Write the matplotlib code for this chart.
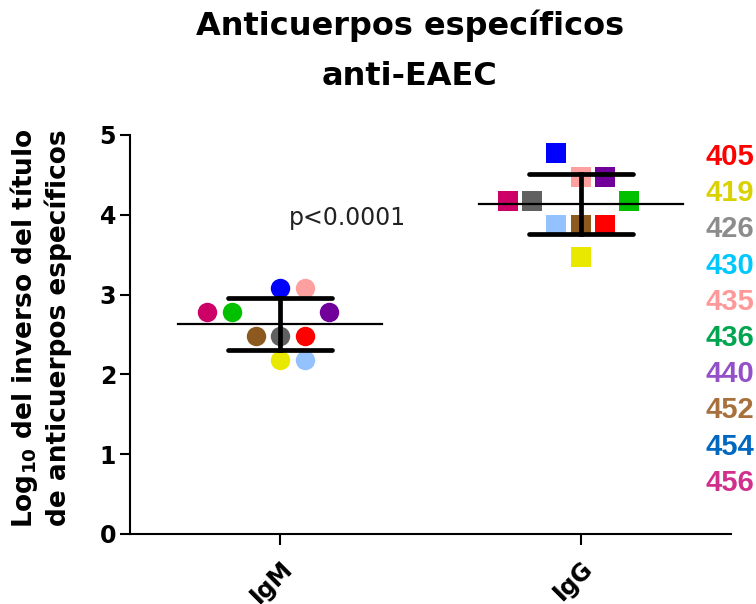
import numpy as np
import matplotlib
matplotlib.use("Agg")
import matplotlib.pyplot as plt
from matplotlib.transforms import ScaledTranslation

# data ─────────────────────────────────────────────
strains = ['405', '419', '426', '430', '435', '436', '440', '452', '454', '456']
igm = [2.477, 2.176, 2.477, 2.176, 3.079, 2.778, 2.778, 2.477, 3.079, 2.778]
igg = [3.875, 3.477, 4.176, 3.875, 4.477, 4.176, 4.477, 3.875, 4.778, 4.176]
# column slot of each point inside its group
igm_slot = [1, 0, 0, 1, 1, -2, 2, -1, 0, -3]
igg_slot = [1, 0, -2, -1, 0, 2, 1, 0, -1, -3]

groups = ['IgM', 'IgG']
p_text = 'p<0.0001'

marker_colors = ['#FF0000', '#E8E800', '#606060', '#93C2FF', '#FFA0A0',
                 '#00C000', '#700099', '#8C5A1E', '#0000FF', '#CC0066']
label_colors = ['#FF0000', '#D9D200', '#8C8C8C', '#00C8FF', '#FF9999',
                '#00A550', '#9350C8', '#A8703C', '#0068C0', '#D0308C']

# layout ─────────────────────────────────────────────
SLOT_W = 0.081
MEAN_HW = 0.34
CAP_HW = 0.173

fig = plt.figure(figsize=(7.56, 6.04), dpi=100)
ax = fig.add_axes([0.172, 0.1159, 0.967 - 0.172, 0.7765 - 0.1159])

for gi, (vals, slots, mk) in enumerate([(igm, igm_slot, 'o'), (igg, igg_slot, 's')]):
    for v, s, c in zip(vals, slots, marker_colors):
        ax.plot(gi + s * SLOT_W, v, marker=mk, ms=14, color=c, mew=0,
                ls='none', zorder=2)
    m = np.mean(vals)
    sd = np.std(vals, ddof=1)
    ax.plot([gi - MEAN_HW, gi + MEAN_HW], [m, m], color='black', lw=1.6, zorder=3)
    for y in (m - sd, m + sd):
        ax.plot([gi - CAP_HW, gi + CAP_HW], [y, y], color='black', lw=3.4,
                solid_capstyle='round', zorder=3)
    ax.plot([gi, gi], [m - sd, m + sd], color='black', lw=3.4, zorder=3)

ax.text(0.223, 3.87, p_text, fontsize=17, ha='center', va='baseline', color='#222222')

ax.set_xlim(-0.5, 1.5)
ax.set_ylim(0, 5)
ax.set_yticks(range(6))
ax.set_xticks(range(len(groups)))
ax.set_xticklabels([])
# rotated group labels, placed just right of the tick as in the reference
shift = ScaledTranslation(0, -22 / 100, fig.dpi_scale_trans)
for gi, g in enumerate(groups):
    ax.text(gi, 0, g, transform=ax.get_xaxis_transform() + shift, rotation=45,
            rotation_mode='anchor', ha='right', va='top', fontsize=17,
            fontweight='bold', clip_on=False)
for lab in ax.get_yticklabels():
    lab.set_fontsize(17)
    lab.set_fontweight('bold')
for s in ('top', 'right'):
    ax.spines[s].set_visible(False)
for s in ('left', 'bottom'):
    ax.spines[s].set_linewidth(1.5)
ax.tick_params(axis='y', length=7, width=1.5, pad=3)
ax.tick_params(axis='x', length=8, width=1.5, pad=6)

fig.text(0.542, 1 - 35 / 604, 'Anticuerpos específicos', ha='center', va='baseline',
         fontsize=23, fontweight='bold')
fig.text(0.542, 1 - 85 / 604, 'anti-EAEC', ha='center', va='baseline',
         fontsize=23, fontweight='bold')

fig.text(40 / 756, 1 - 328 / 604,
         'Log$_{\\mathbf{10}}$ del inverso del título\nde anticuerpos específicos',
         rotation=90, ha='center', va='center', multialignment='center',
         fontsize=19, fontweight='bold', linespacing=1.25)

for i, (name, c) in enumerate(zip(strains, label_colors)):
    fig.text(705 / 756, 1 - (157 + i * 36.2) / 604, name, color=c, ha='left', va='center',
             fontsize=21, fontweight='bold', family='Liberation Sans')

fig.savefig('out.png', dpi=100)
